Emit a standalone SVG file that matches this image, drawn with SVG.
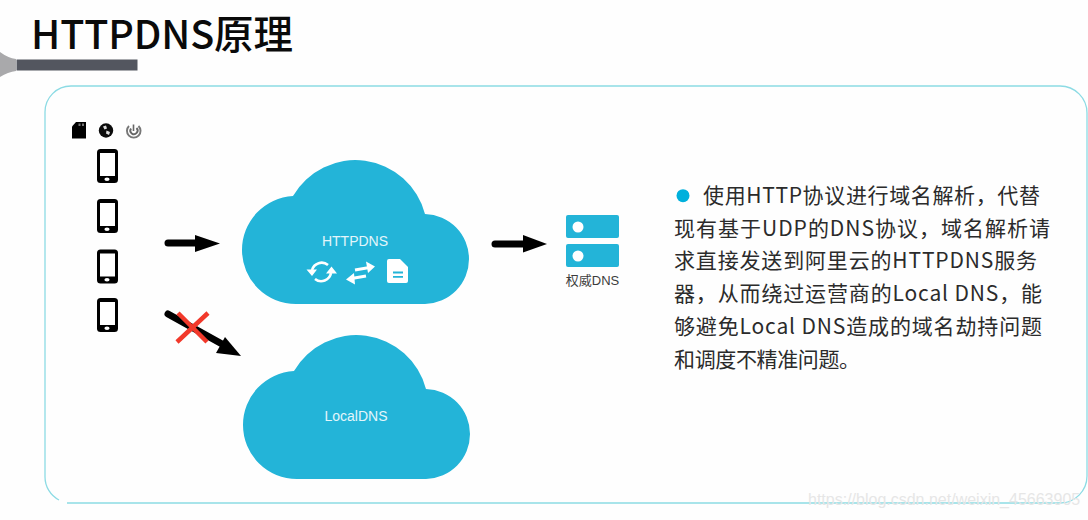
<svg xmlns="http://www.w3.org/2000/svg" xmlns:xlink="http://www.w3.org/1999/xlink" width="1088" height="520" viewBox="0 0 1088 520">
<style>
.cjk{font-family:"Noto Sans CJK SC","Noto Sans",sans-serif}
.body{font-size:21px;fill:#2b2b2b}
.cl{fill:#23b4d8}
.ct{font-family:"Liberation Sans",Arial,sans-serif;font-size:14px;fill:#e4f6fb;text-anchor:middle}
.ar{fill:none;stroke:#000;stroke-width:7;stroke-linecap:round}
.hd{fill:#000}
.srv{fill:#23b4d8}
</style>
<defs>
<path id="cloud" d="M296 304A54 54 0 0 1 242 250A54 54 0 0 1 293 196A72 72 0 0 1 425 214A45 45 0 0 1 469 259A45 45 0 0 1 425 304Z"/>
<g id="phone">
<rect x="97" y="149" width="21" height="34" rx="3.500" fill="#000"/>
<rect x="100" y="153" width="15" height="23" fill="#fff"/>
<ellipse cx="107" cy="179.200" rx="2.600" ry="1.700" fill="#fff"/>
</g>
</defs>
<rect width="1088" height="520" fill="#fefefe"/>
<g id="header">
<path d="M0 52Q8 58 16 59V71Q8 72 0 77Z" fill="#a9a9ab"/>
<rect x="16.500" y="59.500" width="121" height="11" fill="#53565f"/>
<text class="cjk" x="31" y="49" font-size="39.500" font-weight="500" fill="#0a0a0a" textLength="262" lengthAdjust="spacing">HTTPDNS原理</text>
</g>
<g id="panel" fill="none" stroke="#8cdbe4" stroke-width="1.300">
<path d="M59 500A26 26 0 0 1 45 477V112A26 26 0 0 1 71 86H1060A27 27 0 0 1 1087 113V476A27 27 0 0 1 1060 503H67"/>
</g>
<g id="clients">
<path d="M72 126.500L76 122H86V138.500H72Z" fill="#000"/>
<path d="M78.500 123.500H80.500V126H78.500ZM82 123.500H84V126H82Z" fill="#777"/>
<circle cx="106" cy="130.500" r="7.200" fill="#0b0b0b"/>
<path d="M103 126.500L106 125.500L107 128.500L104.500 129.500ZM106.500 130.500L110 132L109 135L106 133.500Z" fill="#ddd"/>
<path d="M129 126A6.800 6.800 0 1 0 138.500 126" fill="none" stroke="#777" stroke-width="1.900"/>
<path d="M131 128.500A3.600 3.600 0 1 0 136.500 128" fill="none" stroke="#666" stroke-width="1.900"/>
<path d="M133.500 124.500V131" stroke="#666" stroke-width="1.600"/>
<use xlink:href="#phone" href="#phone"/>
<use xlink:href="#phone" href="#phone" y="50"/>
<use xlink:href="#phone" href="#phone" y="100.500"/>
<use xlink:href="#phone" href="#phone" y="149"/>
</g>
<g id="connectors">
<path class="ar" d="M168 243H197"/>
<path class="hd" d="M195 235L220 243.500L195 252Z"/>
<path class="ar" d="M495 244H525"/>
<path class="hd" d="M523 235L547 244L523 252.500Z"/>
<path class="ar" d="M168 314L222 344"/>
<path class="hd" d="M225 337L241 356L216 353Z"/>
<path d="M178 313L207 342M208 313L177 342" fill="none" stroke="#f2392b" stroke-width="4.500"/>
</g>
<g id="httpdns">
<use xlink:href="#cloud" href="#cloud" class="cl"/>
<text class="ct" x="355" y="246">HTTPDNS</text>
<g fill="none" stroke="#fff" stroke-width="2.600">
<path d="M312 270A10 10 0 0 1 328 265"/>
<path d="M331 273A10 10 0 0 1 315 279"/>
<path d="M355 270L368 267.800M366 276L353 278.200" stroke-width="3"/>
</g>
<path d="M306.500 269.500L317 269.500L312 276ZM326 273.500L337 273.500L331.500 266.500Z" fill="#fff"/>
<path d="M366 261.500L375 266.500L368 273ZM354 273L346 279.500L355 284.500Z" fill="#fff"/>
<path d="M389 259H400L408 267V281A2 2 0 0 1 406 283H389A2 2 0 0 1 387 281V261A2 2 0 0 1 389 259Z" fill="#fff"/>
<path d="M393 272.500H403M393 276.800H403" stroke="#23b4d8" stroke-width="1.800"/>
</g>
<g id="localdns">
<use xlink:href="#cloud" href="#cloud" class="cl" x="1" y="175"/>
<text class="ct" x="356" y="421">LocalDNS</text>
</g>
<g id="authdns">
<rect class="srv" x="566" y="215" width="53" height="23" rx="2"/>
<rect class="srv" x="566" y="244" width="53" height="23" rx="2"/>
<circle cx="578" cy="227" r="5.500" fill="#fff"/>
<circle cx="578" cy="256" r="5.500" fill="#fff"/>
<text x="592.500" y="285" font-size="13" fill="#3c3c3c" text-anchor="middle" style="font-family:'Liberation Sans','Noto Sans CJK SC',sans-serif">权威DNS</text>
</g>
<g id="description" class="cjk">
<circle cx="683" cy="195.700" r="6.500" fill="#00b0dc"/>
<text class="body" x="703" y="203" textLength="337" lengthAdjust="spacing">使用HTTP协议进行域名解析，代替</text>
<text class="body" x="674" y="235.500" textLength="376" lengthAdjust="spacing">现有基于UDP的DNS协议，域名解析请</text>
<text class="body" x="674" y="268" textLength="363" lengthAdjust="spacing">求直接发送到阿里云的HTTPDNS服务</text>
<text class="body" x="674" y="301" textLength="368" lengthAdjust="spacing">器，从而绕过运营商的Local DNS，能</text>
<text class="body" x="674" y="334" textLength="368" lengthAdjust="spacing">够避免Local DNS造成的域名劫持问题</text>
<text class="body" x="674" y="367" textLength="186" lengthAdjust="spacing">和调度不精准问题。</text>
</g>
<text x="808" y="505" font-size="16" fill="#e6e6e6" style="font-family:'Liberation Sans',Arial,sans-serif">https://blog.csdn.net/weixin_45663905</text>
</svg>
